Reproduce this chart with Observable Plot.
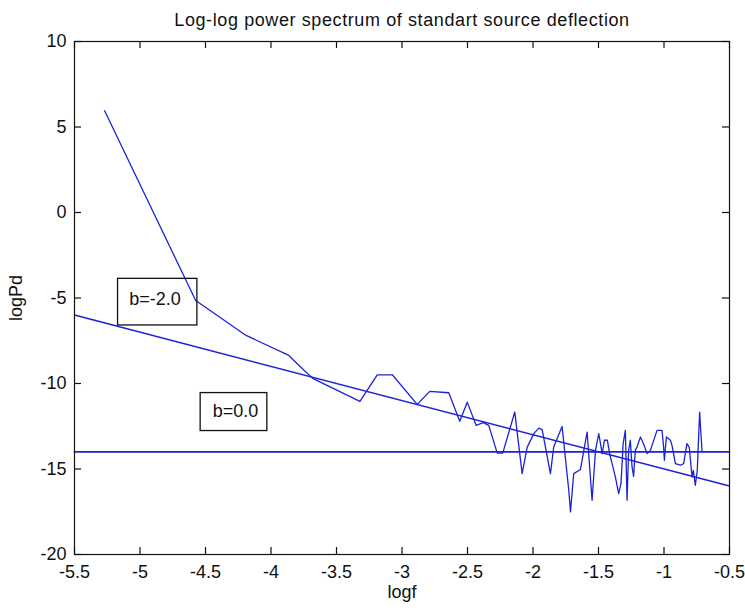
<!DOCTYPE html>
<html>
<head>
<meta charset="utf-8">
<script src="https://cdn.jsdelivr.net/npm/d3@7"></script>
<script src="https://cdn.jsdelivr.net/npm/@observablehq/plot@0.6"></script>
<style>
  html, body { margin: 0; padding: 0; background: #ffffff; }
  #chart { width: 745px; height: 611px; }
</style>
</head>
<body>
<div id="chart"></div>
<script>
// ---- data ----
const titleText = "Log-log power spectrum of standart source deflection";
const xLabel = "logf";
const yLabel = "logPd";

const xTicks = [-5.5, -5, -4.5, -4, -3.5, -3, -2.5, -2, -1.5, -1, -0.5];
const yTicks = [10, 5, 0, -5, -10, -15, -20];

// measured spectrum (logf, logPd)
const specX = [-5.27, -4.575, -4.19, -3.864, -3.774, -3.682, -3.321, -3.189, -3.074, -2.884,
  -2.788, -2.643, -2.559, -2.502, -2.434, -2.380, -2.338, -2.273, -2.231, -2.139,
  -2.083, -2.044, -1.994, -1.956, -1.930, -1.867, -1.842, -1.778, -1.727, -1.714,
  -1.689, -1.638, -1.587, -1.549, -1.523, -1.498, -1.472, -1.455, -1.432, -1.415,
  -1.371, -1.346, -1.328, -1.312, -1.295, -1.282, -1.270, -1.257, -1.244, -1.232,
  -1.219, -1.206, -1.180, -1.158, -1.129, -1.104, -1.053, -1.015, -1.003, -0.997,
  -0.982, -0.951, -0.939, -0.913, -0.875, -0.850, -0.825, -0.807, -0.786, -0.776,
  -0.761, -0.746, -0.728, -0.710];
const specY = [5.95, -5.15, -7.19, -8.36, -9.04, -9.70, -11.05, -9.49, -9.49, -11.22,
  -10.46, -10.54, -12.21, -11.09, -12.45, -12.29, -12.45, -14.07, -14.07, -11.67,
  -15.27, -13.72, -12.93, -12.61, -12.70, -15.27, -13.72, -12.51, -16.24, -17.51,
  -15.27, -15.03, -12.84, -16.83, -13.91, -12.93, -14.10, -13.32, -13.32, -14.10,
  -15.47, -16.44, -15.84, -13.52, -12.74, -16.83, -13.91, -13.32, -14.88, -15.43,
  -13.91, -13.72, -13.13, -13.50, -14.10, -13.91, -12.74, -12.74, -13.72, -14.49,
  -13.13, -13.32, -13.62, -14.69, -14.78, -14.69, -13.52, -13.73, -15.47, -15.08,
  -15.95, -15.08, -11.67, -13.95];

// reference lines
const slopeX = [-5.5, -0.5];
const slopeY = [-6, -16];
const flatX = [-5.5, -0.5];
const flatY = [-14, -14];

// annotation boxes
const annotText = ["b=-2.0", "b=0.0"];
const annotX = [-4.886, -4.271];
const annotY = [-5.05, -11.60];
const boxX1 = [-5.1675, -4.537];
const boxX2 = [-4.562, -4.028];
const boxY1 = [-3.879, -10.56];
const boxY2 = [-6.606, -12.78];

// ---- build tables ----
const spec = specX.map((x, i) => ({x, y: specY[i]}));
const slope = slopeX.map((x, i) => ({x, y: slopeY[i]}));
const flat = flatX.map((x, i) => ({x, y: flatY[i]}));
const annots = annotText.map((t, i) => ({t, x: annotX[i], y: annotY[i]}));
const boxes = boxX1.map((x1, i) => ({x1, x2: boxX2[i], y1: boxY1[i], y2: boxY2[i]}));

const W = 745, H = 611;
const mL = 74, mR = 16, mT = 41, mB = 57;
const xDom = [-5.5, -0.5], yDom = [-20, 10];
const plotW = W - mL - mR, plotH = H - mT - mB;
const tickPx = 7;
const tY = tickPx * (yDom[1] - yDom[0]) / plotH;  // tick length in y units
const tX = tickPx * (xDom[1] - xDom[0]) / plotW;  // tick length in x units

const blue = "#1c22d6";

const chart = Plot.plot({
  width: W,
  height: H,
  marginLeft: mL,
  marginRight: mR,
  marginTop: mT,
  marginBottom: mB,
  style: {fontFamily: "Arial, 'Liberation Sans', Helvetica, sans-serif", fontSize: "18px", color: "#111", background: "#fff"},
  x: {domain: xDom, ticks: xTicks, tickSize: 0, tickPadding: 11, tickFormat: d => String(d), label: null},
  y: {domain: yDom, ticks: yTicks, tickSize: 0, tickPadding: 8, tickFormat: d => String(d), label: null},
  marks: [
    // inside ticks (bottom/top)
    Plot.ruleX(xTicks, {x: d => d, y1: yDom[0], y2: yDom[0] + tY, stroke: "#111", strokeWidth: 1.2}),
    Plot.ruleX(xTicks, {x: d => d, y1: yDom[1], y2: yDom[1] - tY, stroke: "#111", strokeWidth: 1.2}),
    // inside ticks (left/right)
    Plot.ruleY(yTicks, {y: d => d, x1: xDom[0], x2: xDom[0] + tX, stroke: "#111", strokeWidth: 1.2}),
    Plot.ruleY(yTicks, {y: d => d, x1: xDom[1], x2: xDom[1] - tX, stroke: "#111", strokeWidth: 1.2}),
    // lines
    Plot.line(flat, {x: "x", y: "y", stroke: blue, strokeWidth: 1.6}),
    Plot.line(slope, {x: "x", y: "y", stroke: blue, strokeWidth: 1.6}),
    Plot.line(spec, {x: "x", y: "y", stroke: blue, strokeWidth: 1.3, strokeLinejoin: "round"}),
    // annotation boxes
    Plot.rect(boxes, {x1: "x1", x2: "x2", y1: "y1", y2: "y2", fill: "none", stroke: "#111", strokeWidth: 1.3}),
    Plot.text(annots, {x: "x", y: "y", text: "t", fontSize: 18, fill: "#111", textAnchor: "middle", lineAnchor: "middle"}),
    // frame
    Plot.frame({stroke: "#111", strokeWidth: 1.2}),
    // title and axis labels
    Plot.text([titleText], {frameAnchor: "top", dy: -15.5, lineAnchor: "bottom", fontSize: 18, fill: "#111"}),
    Plot.text([xLabel], {frameAnchor: "bottom", dy: 43, lineAnchor: "bottom", fontSize: 18, fill: "#111"}),
    Plot.text([yLabel], {frameAnchor: "left", dx: -53, rotate: -90, lineAnchor: "bottom", textAnchor: "middle", fontSize: 18, fill: "#111"})
  ]
});

// widen title slightly to match reference letter spacing
d3.select(chart).selectAll("text").filter(function() { return this.textContent === titleText; })
  .attr("letter-spacing", "0.6px");

document.getElementById("chart").appendChild(chart);
</script>
</body>
</html>
